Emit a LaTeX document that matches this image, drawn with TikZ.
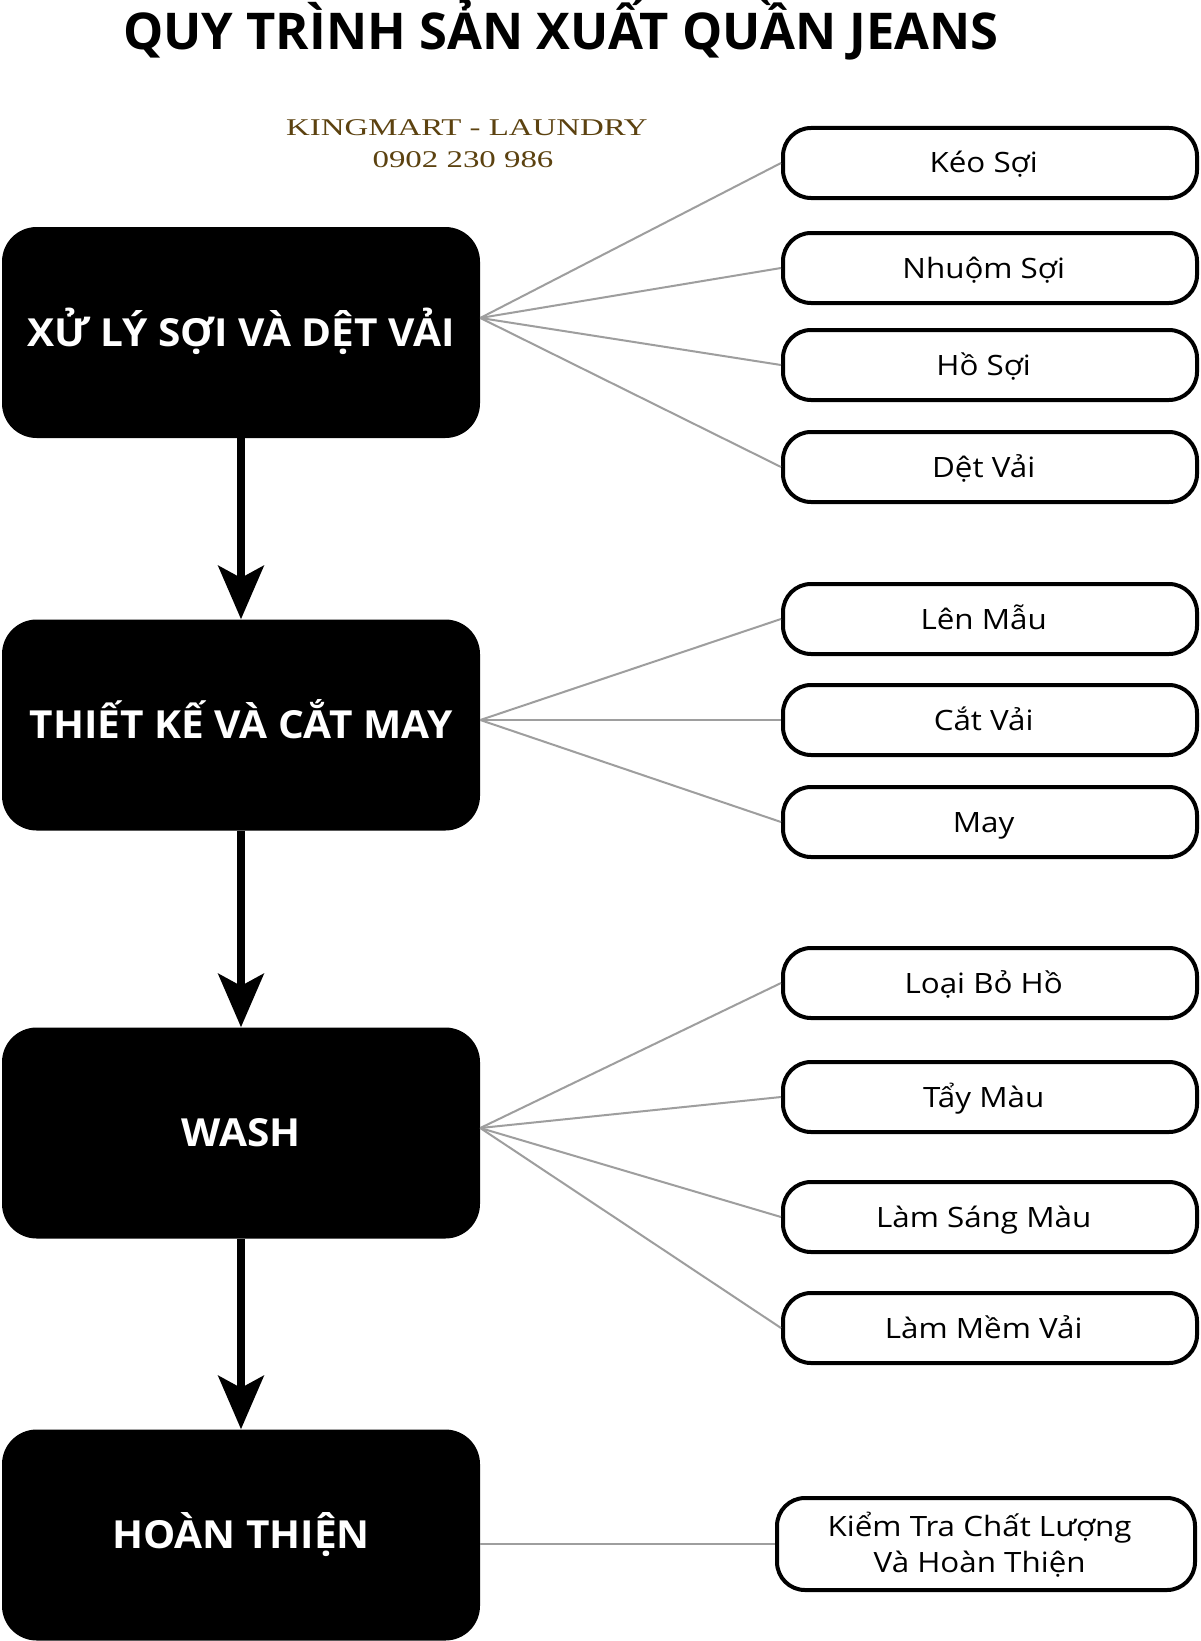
\documentclass[tikz,border=0pt]{standalone}
\usepackage{fontspec}
\setmainfont{Open Sans}
\newfontfamily\stagefont[FakeStretch=1.05]{Open Sans}
\newfontfamily\stepfont[FakeStretch=1.12]{Open Sans}
\newfontfamily\markfont[FakeStretch=1.37]{Liberation Serif}
\usetikzlibrary{arrows.meta, positioning}
\definecolor{markbrown}{RGB}{92, 66, 16}
\definecolor{linkgray}{RGB}{158, 158, 158}

\tikzset{
  stage/.style={fill=black, rounded corners=26pt, minimum width=358.5pt, minimum height=158.25pt, text=white, font=\stagefont\fontsize{29}{34}\selectfont\bfseries, text height=26pt, text depth=5.3pt},
  substep/.style={draw=black, line width=3pt, fill=white, rounded corners=21pt, minimum width=310.5pt, minimum height=52.5pt, font=\stepfont\fontsize{21}{27}\selectfont, text height=19pt, text depth=4pt, execute at begin node={\hspace*{-9.5pt}}},
  flow/.style={-{Stealth[length=40pt, width=34pt, inset=9pt]}, line width=6pt},
  link/.style={draw=linkgray, line width=1.5pt}
}

\begin{document}
\begin{tikzpicture}[x=0.75pt, y=-0.75pt]
  \useasboundingbox[fill=white] (0, 0) rectangle (1200, 1641);

  % Title
  \node[anchor=base, font=\fontsize{38}{44}\selectfont\bfseries] (title) at (561, 50) {QUY TRÌNH SẢN XUẤT QUẦN JEANS};
  \node[anchor=base, font=\markfont\fontsize{18}{20}\selectfont, text=markbrown] (brand) at (467, 136) {KINGMART - LAUNDRY};
  \node[anchor=base, font=\markfont\fontsize{18}{20}\selectfont, text=markbrown] (phone) at (463, 167) {0902 230 986};

  % Stages
  \node[stage] (xuly) at (241, 332.5) {XỬ LÝ SỢI VÀ DỆT VẢI};
  \node[stage] (thietke) at (241, 725) {THIẾT KẾ VÀ CẮT MAY};
  \node[stage] (wash) at (241, 1133) {WASH};
  \node[stage] (hoanthien) at (241, 1535) {HOÀN THIỆN};

  \draw[flow] (xuly.south) -- (thietke.north);
  \draw[flow] (thietke.south) -- (wash.north);
  \draw[flow] (wash.south) -- (hoanthien.north);

  % Xu ly soi va det vai
  \node[substep] (keo) at (990, 163) {Kéo Sợi};
  \node[substep] (nhuom) at (990, 268) {Nhuộm Sợi};
  \node[substep] (ho) at (990, 365) {Hồ Sợi};
  \node[substep] (det) at (990, 467) {Dệt Vải};
  \draw[link] ([yshift=10.9pt]xuly.east) -- (keo.west);
  \draw[link] ([yshift=10.9pt]xuly.east) -- (nhuom.west);
  \draw[link] ([yshift=10.9pt]xuly.east) -- (ho.west);
  \draw[link] ([yshift=10.9pt]xuly.east) -- (det.west);

  % Thiet ke va cat may
  \node[substep] (lenmau) at (990, 619) {Lên Mẫu};
  \node[substep] (cat) at (990, 720) {Cắt Vải};
  \node[substep] (may) at (990, 822) {May};
  \draw[link] ([yshift=3.75pt]thietke.east) -- (lenmau.west);
  \draw[link] ([yshift=3.75pt]thietke.east) -- (cat.west);
  \draw[link] ([yshift=3.75pt]thietke.east) -- (may.west);

  % Wash
  \node[substep] (loaibo) at (990, 983) {Loại Bỏ Hồ};
  \node[substep] (tay) at (990, 1097) {Tẩy Màu};
  \node[substep] (sang) at (990, 1217) {Làm Sáng Màu};
  \node[substep] (mem) at (990, 1328) {Làm Mềm Vải};
  \draw[link] ([yshift=3.75pt]wash.east) -- (loaibo.west);
  \draw[link] ([yshift=3.75pt]wash.east) -- (tay.west);
  \draw[link] ([yshift=3.75pt]wash.east) -- (sang.west);
  \draw[link] ([yshift=3.75pt]wash.east) -- (mem.west);

  % Hoan thien
  \node[substep, align=center, execute at begin node={}, minimum width=313.5pt, minimum height=69pt, text height=46pt] (kiemtra) at (986, 1544) {Kiểm Tra Chất Lượng\\Và Hoàn Thiện};
  \draw[link] ([yshift=-6.75pt]hoanthien.east) -- (kiemtra.west);
\end{tikzpicture}
\end{document}
